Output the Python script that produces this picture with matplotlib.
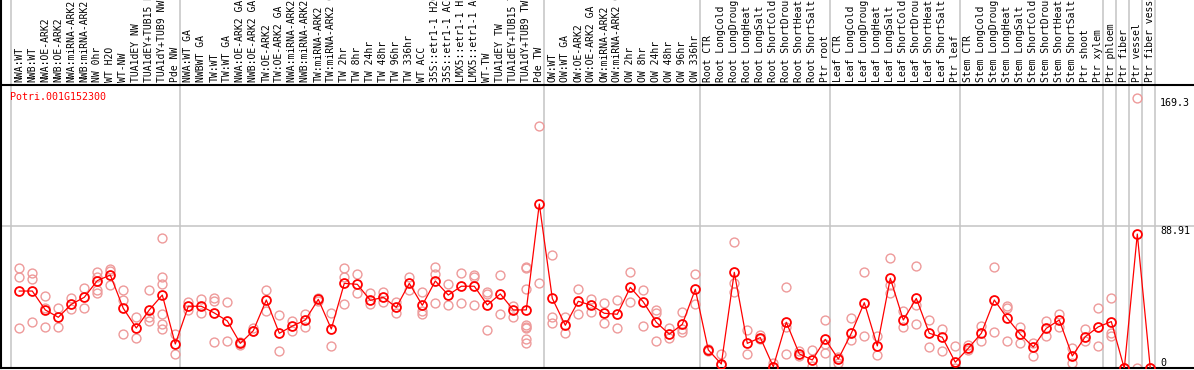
import matplotlib
matplotlib.use("Agg")
import matplotlib.pyplot as plt
import matplotlib.transforms as mtransforms

gene_name = "Potri.001G152300"

categories = [
    "NWA:WT", "NWB:WT", "NWA:OE-ARK2", "NWB:OE-ARK2", "NWA:miRNA-ARK2", "NWB:miRNA-ARK2",
    "NW 0hr", "WT H2O", "WT-NW", "TUA1dEY NW", "TUA1dEY+TUB15 NW", "TUA1dY+TUB9 NW", "Pde NW",
    "NWA:WT GA", "NWBWT GA", "TW:WT", "TW:WT GA", "NWA:OE-ARK2 GA", "NWB:OE-ARK2 GA",
    "TW:OE-ARK2", "TW:OE-ARK2 GA", "NWA:miRNA-ARK2 GA", "NWB:miRNA-ARK2 GA", "TW:miRNA-ARK2",
    "TW:miRNA-ARK2 GA", "TW 2hr", "TW 8hr", "TW 24hr", "TW 48hr", "TW 96hr", "TW 336hr",
    "WT ACC", "35S::etr1-1 H2O", "35S::etr1-1 ACC", "LMX5::etr1-1 H2O", "LMX5::etr1-1 ACC",
    "WT-TW", "TUA1dEY TW", "TUA1dEY+TUB15 TW", "TUA1dY+TUB9 TW", "Pde TW",
    "OW:WT", "OW:WT GA", "OW:OE-ARK2", "OW:OE-ARK2 GA", "OW:miRNA-ARK2", "OW:miRNA-ARK2 GA",
    "OW 2hr", "OW 8hr", "OW 24hr", "OW 48hr", "OW 96hr", "OW 336hr",
    "Root CTR", "Root LongCold", "Root LongDrought", "Root LongHeat", "Root LongSalt",
    "Root ShortCold", "Root ShortDrought", "Root ShortHeat", "Root ShortSalt", "Ptr root",
    "Leaf CTR", "Leaf LongCold", "Leaf LongDrought", "Leaf LongHeat", "Leaf LongSalt",
    "Leaf ShortCold", "Leaf ShortDrought", "Leaf ShortHeat", "Leaf ShortSalt", "Ptr leaf",
    "Stem CTR", "Stem LongCold", "Stem LongDrought", "Stem LongHeat", "Stem LongSalt",
    "Stem ShortCold", "Stem ShortDrought", "Stem ShortHeat", "Stem ShortSalt", "Ptr shoot",
    "Ptr xylem", "Ptr phloem", "Ptr fiber", "Ptr vessel", "Ptr fiber vessel",
]

means = [
    48.4, 48.4, 36.6, 32.0, 40.1, 44.5, 54.9, 58.4, 37.6, 25.3, 36.6, 45.9, 15.3,
    38.9, 38.9, 34.7, 29.7, 15.7, 23.6, 42.8, 22.0, 26.5, 30.3, 43.2, 24.7, 53.2, 52.6,
    42.6, 44.5, 38.2, 53.2, 39.5, 54.7, 45.9, 51.4, 51.4, 39.7, 46.6, 36.6, 36.6, 102.8,
    43.8, 27.0, 42.0, 39.5, 34.5, 33.9, 50.7, 41.6, 28.9, 21.4, 27.6, 49.5,
    11.6, 2.8, 60.1, 15.7, 19.3, 1.1, 28.9, 9.1, 5.3, 18.2,
    5.9, 22.0, 41.1, 14.1, 56.4, 30.3, 43.8, 22.0, 19.5, 3.9,
    12.6, 22.0, 42.8, 31.4, 21.4, 13.4, 25.1, 30.3, 7.8, 19.9, 26.0,
    29.3, 0.0, 84.0, 0.0,
]

replicates = [
    [63.0, 57.2, 25.3], [59.5, 56.1, 29.1], [45.3, 37.8, 25.7], [38.0, 25.7],
    [44.1, 37.4], [50.1, 38.0], [60.5, 57.4, 49.1, 47.0], [62.0, 61.1, 52.2],
    [48.9, 42.8, 21.4], [32.0, 19.1], [48.9, 32.0, 29.9],
    [81.6, 57.4, 52.6, 34.1, 27.8, 24.7], [21.6, 8.9],
    [41.4, 36.4], [43.2, 34.5], [44.1, 42.4, 16.6], [41.6, 17.2], [16.8, 14.7],
    [25.5, 23.6], [48.9, 35.7], [33.4, 10.9], [29.9, 23.2], [34.3, 26.2], [44.0, 42.4],
    [34.7, 13.9], [62.8, 57.2, 40.3], [58.9, 47.0], [47.0, 40.3], [47.8, 41.6],
    [41.8, 34.9], [57.2, 49.1], [47.8, 36.2, 34.1], [63.6, 58.9, 40.7], [52.8, 39.5],
    [59.5, 40.7], [58.6, 57.4, 39.5], [48.0, 46.4, 24.1], [58.4, 34.1], [39.0, 32.0],
    [63.6, 63.0, 49.5, 27.2, 26.2, 25.3, 18.7, 16.1], [151.7, 53.2],
    [70.7, 32.0, 28.2], [32.0, 22.0], [49.9, 34.1], [43.2, 35.1], [41.1, 28.2],
    [42.8, 25.1], [60.3, 41.6], [48.9, 26.4], [36.6, 34.9, 17.0], [25.1, 18.9],
    [35.3, 24.5, 23.0], [58.9, 40.3],
    [12.2, 10.9], [8.9, 2.2], [78.9, 53.2, 47.6], [24.1, 8.9], [21.0, 18.2], [3.2, 1.1],
    [50.7, 26.2, 8.9], [11.2, 7.8], [11.6, 1.6], [30.1, 15.1, 9.5],
    [7.4, 3.6], [31.4, 17.8], [60.3, 20.3], [20.3, 8.3], [69.1, 52.2, 47.0], [35.9, 25.7],
    [64.1, 39.5, 27.8], [30.3, 13.6], [24.5, 10.9], [13.9, 0.0],
    [14.7, 11.6], [26.6, 17.4], [63.2, 22.6], [39.0, 37.6, 17.2], [25.7, 15.7],
    [16.1, 7.8], [29.9, 20.3], [34.1, 26.2], [12.6, 3.2], [24.5, 17.4], [37.6, 13.9],
    [43.8, 22.0, 20.3], [0.0, 0.0], [169.3, 0.0], [0.0, 0.0],
]

group_starts = [0, 13, 41, 53, 63, 73, 84, 85, 86, 87, 88]
y_labels = [169.3, 88.91, 0]
y_label_text = ["169.3", "88.91", "0"]

W, H = 1194, 370
fig = plt.figure(figsize=(W / 100, H / 100), dpi=100)
ax_left, ax_bottom_px, ax_top_px = 1, 368, 85
ax = fig.add_axes([ax_left / W, (H - ax_bottom_px) / H, (W - ax_left) / W,
                   (ax_bottom_px - ax_top_px) / H])

step = 13.0
first_center = 19.3
xmin = -(first_center - ax_left) / step
xmax = xmin + (W - ax_left) / step
ax.set_xlim(xmin, xmax)
ax.set_ylim(0.3, 0.3 + (ax_bottom_px - ax_top_px) / 1.6)

ax.set_xticks([])
ax.set_yticks([])
for s in ["top", "bottom", "left"]:
    ax.spines[s].set_color("black")
    ax.spines[s].set_linewidth(1.5)
ax.spines["right"].set_visible(False)

axes_h = ax_bottom_px - ax_top_px
top_ext = ax_bottom_px / axes_h  # extend to figure top

# left border continues through the header
ax.plot([0, 0], [1, top_ext], transform=ax.transAxes, color="black", lw=1.5,
        clip_on=False, zorder=5)

grid_col = "#c4c4c4"
for g in group_starts:
    ax.axvline(g - 0.64, ymin=0, ymax=top_ext, color=grid_col, lw=1.1, clip_on=False, zorder=1)
ax.axhline(88.91, color=grid_col, lw=1.1, zorder=1)

xs = list(range(len(categories)))
rep_x = []
rep_y = []
for i, reps in enumerate(replicates):
    for v in reps:
        rep_x.append(i)
        rep_y.append(v)

ax.plot(rep_x, rep_y, linestyle="none", marker="o", markersize=6.4,
        markerfacecolor="none", markeredgecolor="#ee9a9a", markeredgewidth=1.0, zorder=2)
ax.plot(xs, means, color="#ff0000", lw=0.9, zorder=3)
ax.plot(xs, means, linestyle="none", marker="o", markersize=6.4,
        markerfacecolor="none", markeredgecolor="#ff0000", markeredgewidth=1.3, zorder=4)

mono = "DejaVu Sans Mono"
trans = mtransforms.blended_transform_factory(ax.transData, ax.transAxes)
label_y = (H - 82 - (H - ax_bottom_px)) / axes_h
for i, name in enumerate(categories):
    ax.text(i, label_y, name, rotation=90, ha="center", va="bottom", fontsize=7,
            family=mono, color="black", transform=trans, clip_on=False)

ax.text((10 - ax_left) / (W - ax_left), (ax_bottom_px - 97) / axes_h, gene_name,
        transform=ax.transAxes, ha="left", va="center", fontsize=7.2, family=mono,
        color="#ff0000")

xlab = (1160 - ax_left) / (W - ax_left)
tr2 = mtransforms.blended_transform_factory(ax.transAxes, ax.transData)
vas = ["top", "top", "bottom"]
for v, t, va in zip(y_labels, y_label_text, vas):
    ax.text(xlab, v, t, transform=tr2, ha="left", va=va, fontsize=7.2, family=mono,
            color="black", clip_on=False)

fig.savefig("out.png", dpi=100)
